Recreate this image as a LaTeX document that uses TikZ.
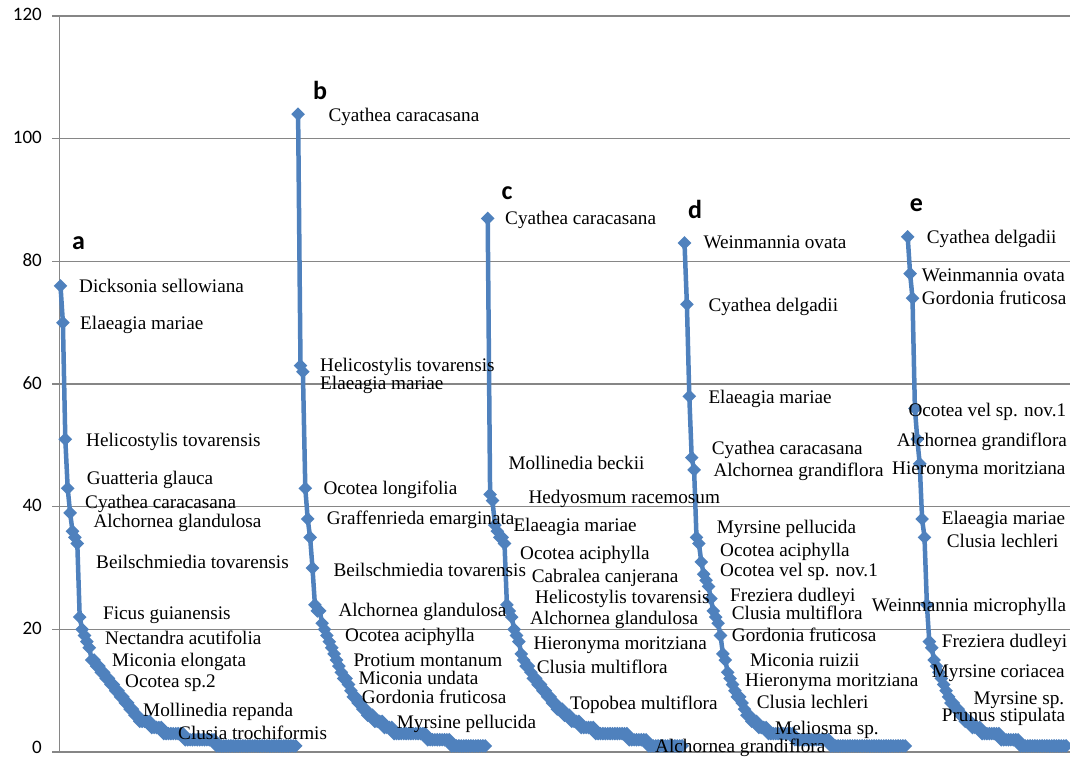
\documentclass[tikz,border=0pt]{standalone}
\usepackage{fontspec}
\setmainfont{Liberation Serif}
\newfontfamily\axisfont{Carlito}
\usetikzlibrary{shapes.geometric}
\definecolor{rankblue}{RGB}{79,129,189}
\definecolor{gridgray}{RGB}{134,134,134}
\tikzset{
  grid line/.style={draw=gridgray, line width=1.2pt},
  rank line/.style={draw=rankblue, line width=4.5pt, line join=round, line cap=round},
  mk/.style={diamond, fill=rankblue, minimum width=15.5pt, minimum height=15.5pt, inner sep=0pt},
  sp/.style={anchor=west, inner sep=0pt, text height=12.6pt, text depth=0pt, font=\fontsize{19.2}{19.2}\selectfont},
  panel/.style={inner sep=0pt, font=\axisfont\bfseries\fontsize{26}{26}\selectfont},
  ylab/.style={anchor=east, inner sep=0pt, font=\axisfont\fontsize{19}{19}\selectfont}
}
\begin{document}
\begin{tikzpicture}[x=1pt, y=6.133pt]
      \useasboundingbox (0,-0.978) rectangle (1070,122.62);
      \foreach \g in {0,20,...,120}
        \draw[grid line] (52,\g) -- (1070,\g);
      \foreach \g in {20,40,...,120}
        \node[ylab] (y\g) at (42,\g+0.2) {\g};
      \node[ylab] (y0) at (42,0.7) {0};
      \draw[grid line] (59.3,0) -- (59.3,120);

      \draw[rank line] (60.5,76) node[mk]{}
        foreach \v [count=\k] in {70,51,43,39,36,35,34,22,20,19,18,17,15,15,14,14,13,13,12,12,11,11,10,10,9,9,8,8,7,7,6,6,
          5,5,5,5,5,4,4,4,4,4,3,3,3,3,3,3,3,3,3,2,2,2,2,2,2,2,2,2,2,2,2,2,
          1,1,1,1,1,1,1,1,1,1,1,1,1,1,1,1,1,1,1,1,1,1,1,1,1,1,1,1,1,1,1,1,1,1}
        { -- ({60.5+2.4*\k},\v) node[mk]{} };
      \draw[rank line] ({60.5+2.4*99},104) node[mk]{}
        foreach \v [count=\k] in {63,62,43,38,35,30,24,23,23,21,20,19,18,17,16,15,14,13,12,12,11,10,9,9,8,8,7,7,6,6,6,
          5,5,5,5,4,4,4,4,3,3,3,3,3,3,3,3,3,3,3,3,3,3,2,2,2,2,2,2,2,2,2,2,
          1,1,1,1,1,1,1,1,1,1,1,1,1,1,1}
        { -- ({60.5+2.4*(99+\k)},\v) node[mk]{} };
      \draw[rank line] ({60.5+2.4*178},87) node[mk]{}
        foreach \v [count=\k] in {42,41,37,36,35,35,34,24,23,22,20,19,18,16,15,14,14,13,12,12,11,11,10,10,9,9,8,8,7,7,7,6,6,6,
          5,5,5,5,4,4,4,4,4,4,3,3,3,3,3,3,3,3,3,3,3,3,3,3,2,2,2,2,2,2,2,2,
          1,1,1,1,1,1,1,1,1,1,1,1,1,1,1}
        { -- ({60.5+2.4*(178+\k)},\v) node[mk]{} };
      \draw[rank line] ({60.5+2.4*260},83) node[mk]{}
        foreach \v [count=\k] in {73,58,48,46,35,34,31,29,28,27,25,23,22,21,19,16,15,13,12,11,10,9,9,8,7,6,6,
          5,5,5,4,4,4,4,3,3,3,3,3,3,3,3,3,3,3,2,2,2,2,2,2,2,2,2,2,2,2,2,2,2,
          1,1,1,1,1,1,1,1,1,1,1,1,1,1,1,1,1,1,1,1,1,1,1,1,1,1,1,1,1,1,1,1}
        { -- ({60.5+2.4*(260+\k)},\v) node[mk]{} };
      \draw[rank line] ({60.5+2.4*353},84) node[mk]{}
        foreach \v [count=\k] in {78,74,56,51,47,38,35,24,18,17,15,14,13,12,11,10,9,8,8,7,7,6,6,
          5,5,5,4,4,4,4,3,3,3,3,3,3,3,3,2,2,2,2,2,2,2,2,
          1,1,1,1,1,1,1,1,1,1,1,1,1,1,1,1,1,1,1,1}
        { -- ({60.5+2.4*(353+\k)},\v) node[mk]{} };

      \node[panel] (a) at (78.5,83.0) {a};
      \node[panel] (b) at (320,107.9) {b};
      \node[panel] (c) at (507,91.1) {c};
      \node[panel] (d) at (695,88.5) {d};
      \node[panel] (e) at (916.5,89.2) {e};

      \node[sp] (a1) at (79,75.9) {Dicksonia sellowiana};
      \node[sp] (a2) at (80,69.9) {Elaeagia mariae};
      \node[sp] (a3) at (86,50.9) {Helicostylis tovarensis};
      \node[sp] (a4) at (86.7,44.6) {Guatteria glauca};
      \node[sp] (a5) at (85,40.7) {Cyathea caracasana};
      \node[sp] (a6) at (93.3,37.7) {Alchornea glandulosa};
      \node[sp] (a7) at (96,30.9) {Beilschmiedia tovarensis};
      \node[sp] (a8) at (103,22.7) {Ficus guianensis};
      \node[sp] (a9) at (105,18.5) {Nectandra acutifolia};
      \node[sp] (a10) at (112,15) {Miconia elongata};
      \node[sp] (a11) at (125,11.5) {Ocotea sp.2};
      \node[sp] (a12) at (143,6.8) {Mollinedia repanda};
      \node[sp] (a13) at (178,3.0) {Clusia trochiformis};

      \node[sp] (b1) at (328.3,103.9) {Cyathea caracasana};
      \node[sp] (b2) at (320,63.1) {Helicostylis tovarensis};
      \node[sp] (b3) at (320,60.1) {Elaeagia mariae};
      \node[sp] (b4) at (323.3,43) {Ocotea longifolia};
      \node[sp] (b5) at (326.7,38.1) {Graffenrieda emarginata};
      \node[sp] (b6) at (333.3,29.7) {Beilschmiedia tovarensis};
      \node[sp] (b7) at (338.3,23.2) {Alchornea glandulosa};
      \node[sp] (b8) at (345,19.1) {Ocotea aciphylla};
      \node[sp] (b9) at (353.3,15) {Protium montanum};
      \node[sp] (b10) at (358.3,12) {Miconia undata};
      \node[sp] (b11) at (361.7,9) {Gordonia fruticosa};
      \node[sp] (b12) at (396.7,4.9) {Myrsine pellucida};

      \node[sp] (c1) at (505,87) {Cyathea caracasana};
      \node[sp] (c2) at (508.3,47.1) {Mollinedia beckii};
      \node[sp] (c3) at (528.3,41.6) {Hedyosmum racemosum};
      \node[sp] (c4) at (513.3,37) {Elaeagia mariae};
      \node[sp] (c5) at (520,32.4) {Ocotea aciphylla};
      \node[sp] (c6) at (531.7,28.6) {Cabralea canjerana};
      \node[sp] (c7) at (535,25.3) {Helicostylis tovarensis};
      \node[sp] (c8) at (530,21.8) {Alchornea glandulosa};
      \node[sp] (c9) at (533.3,17.7) {Hieronyma moritziana};
      \node[sp] (c10) at (536.7,13.9) {Clusia multiflora};
      \node[sp] (c11) at (570,7.9) {Topobea multiflora};
      \node[sp] (c12) at (655,0.9) {Alchornea grandiflora};

      \node[sp] (d1) at (703.3,83.2) {Weinmannia ovata};
      \node[sp] (d2) at (708.3,72.9) {Cyathea delgadii};
      \node[sp] (d3) at (708.3,57.9) {Elaeagia mariae};
      \node[sp] (d4) at (711.7,49.5) {Cyathea caracasana};
      \node[sp] (d5) at (713.3,46) {Alchornea grandiflora};
      \node[sp] (d6) at (716.7,36.7) {Myrsine pellucida};
      \node[sp] (d7) at (720,32.9) {Ocotea aciphylla};
      \node[sp] (d8) at (720,29.7) {Ocotea vel sp. nov.1};
      \node[sp] (d9) at (730,25.6) {Freziera dudleyi};
      \node[sp] (d10) at (731.7,22.6) {Clusia multiflora};
      \node[sp] (d11) at (731.7,19.1) {Gordonia fruticosa};
      \node[sp] (d12) at (750,15) {Miconia ruizii};
      \node[sp] (d13) at (745,11.7) {Hieronyma moritziana};
      \node[sp] (d14) at (756.7,8.2) {Clusia lechleri};
      \node[sp] (d15) at (775,3.9) {Meliosma sp.};

      \node[sp] (e1) at (926.7,84) {Cyathea delgadii};
      \node[sp] (e2) at (921.7,77.8) {Weinmannia ovata};
      \node[sp] (e3) at (921.7,74) {Gordonia fruticosa};
      \node[sp] (e4) at (908.3,55.8) {Ocotea vel sp. nov.1};
      \node[sp] (e5) at (896.7,50.9) {Alchornea grandiflora};
      \node[sp] (e6) at (892,46.3) {Hieronyma moritziana};
      \node[sp] (e7) at (941.7,38.1) {Elaeagia mariae};
      \node[sp] (e8) at (946.7,34.3) {Clusia lechleri};
      \node[sp] (e9) at (871.7,24) {Weinmannia microphylla};
      \node[sp] (e10) at (941.7,18) {Freziera dudleyi};
      \node[sp] (e11) at (931.7,13.1) {Myrsine coriacea};
      \node[sp] (e12) at (973.3,8.8) {Myrsine sp.};
      \node[sp] (e13) at (941.7,6) {Prunus stipulata};
\end{tikzpicture}
\end{document}
